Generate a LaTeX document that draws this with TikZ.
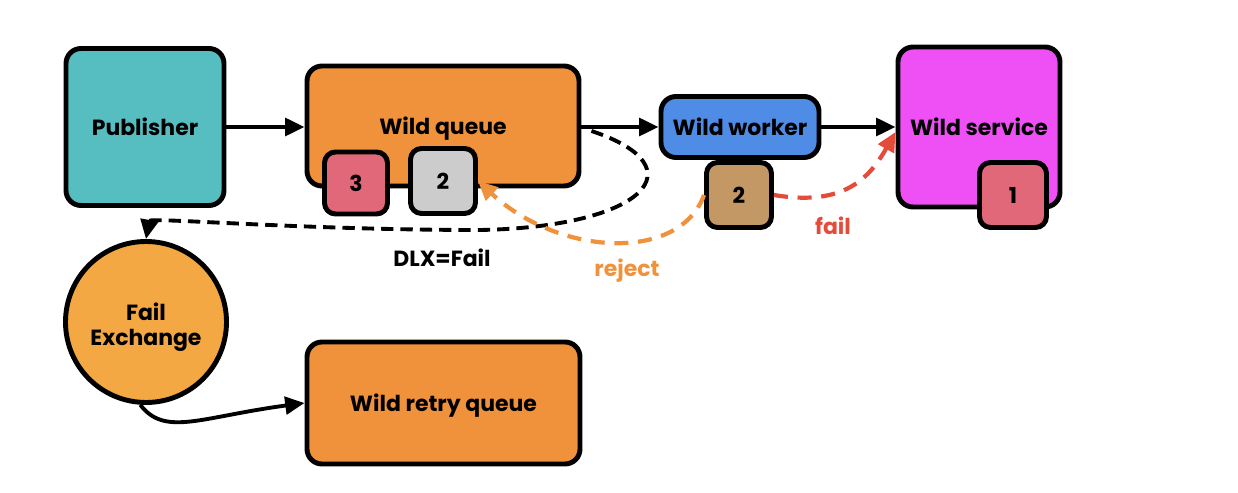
\documentclass[tikz,border=0pt]{standalone}
\usepackage{fontspec}
\setmainfont{Poppins}
\usepackage{tikz}
\usetikzlibrary{shapes}
\usetikzlibrary{arrows.meta}
\usetikzlibrary{calc}
\usepackage{xcolor}
\definecolor{pubTeal}{HTML}{56BDC1}
\definecolor{queueOrange}{HTML}{F0913C}
\definecolor{exchOrange}{HTML}{F3A843}
\definecolor{msgPink}{HTML}{E06878}
\definecolor{msgGrey}{HTML}{CCCCCC}
\definecolor{msgBrown}{HTML}{C49865}
\definecolor{workerBlue}{HTML}{4F8CE6}
\definecolor{serviceMagenta}{HTML}{EE50F5}
\definecolor{failRed}{HTML}{E54B3B}

\tikzset{
    box/.style={draw=black, line width=2.8pt, rounded corners=0.3cm, inner sep=0pt,
        align=center, text height=10pt, text depth=0pt, font=\fontsize{12.5}{14}\selectfont\bfseries},
    msgbox/.style={box, rounded corners=0.22cm, minimum width=1.3cm, minimum height=1.3cm},
    flow/.style={line width=2.2pt, -{Triangle[length=11pt,width=10pt]}},
    dlx/.style={flow, dash pattern=on 7pt off 4pt},
    reject/.style={flow, line width=2.4pt, color=queueOrange, dash pattern=on 8pt off 5.5pt},
    fail/.style={flow, line width=2.4pt, color=failRed, dash pattern=on 8pt off 5.5pt},
    edgelabel/.style={font=\fontsize{12.5}{14}\selectfont\bfseries}
}

\begin{document}
\begin{tikzpicture}
        \useasboundingbox (0,0) rectangle (24.76,9.84);
        % upper row
        \node [box, fill=pubTeal, minimum width=3.16cm, minimum height=3.14cm] (publisher) at (2.90,7.30) {Publisher};
        \node [box, fill=queueOrange, minimum width=5.44cm, minimum height=2.40cm] (wildqueue) at (8.86,7.32) {Wild queue};
        \node [box, fill=workerBlue, minimum width=3.16cm, minimum height=1.22cm] (wildworker) at (14.80,7.30) {Wild worker};
        \node [box, fill=serviceMagenta, minimum width=3.24cm, minimum height=3.20cm] (wildservice) at (19.58,7.30) {Wild service};
        % messages
        \node [msgbox, fill=msgPink, minimum width=1.26cm, minimum height=1.24cm] (msgthree) at (7.12,6.18) {3};
        \node [msgbox, fill=msgGrey] (msgqueued) at (8.86,6.22) {2};
        \node [msgbox, fill=msgBrown] (msgworker) at (14.78,5.94) {2};
        \node [msgbox, fill=msgPink, minimum width=1.34cm] (msgone) at (20.26,5.94) {1};
        % lower row
        \node [box, circle, fill=exchOrange, minimum size=3.22cm,
            label={[align=center, font=\fontsize{12.5}{14}\selectfont\bfseries, yshift=-0.1cm]center:{Fail\\Exchange}}] (failexchange) at (2.92,3.40) {};
        \node [box, fill=queueOrange, minimum width=5.46cm, minimum height=2.44cm] (retryqueue) at (8.87,1.78) {Wild retry queue};

        \draw [flow] (publisher.east) -- (wildqueue.west |- publisher.east);
        \draw [flow] (wildqueue.east |- wildworker.west) -- (wildworker.west);
        \draw [flow] (wildworker.east) -- (wildservice.west |- wildworker.east);
        \draw [dlx] ($(wildqueue.east)+(0.2,-0.1)$) .. controls (14.0,6.5) and (12.9,5.3) .. (9.6,5.24)
            .. controls (6,5.24) and (3.0,5.5) .. (failexchange.north);
        \draw [reject] (msgworker.west) .. controls (13.6,4.6) and (11.2,4.7) .. (msgqueued.east);
        \draw [fail] (msgworker.east) .. controls (16.9,5.7) and (17.4,6.3) .. ($(wildservice.west)+(0,-0.1)$);
        \draw [flow] (failexchange.-94) .. controls (3.3,1.1) and (4.0,1.5) .. (retryqueue.west);

        \node [edgelabel] (dlxlabel) at (8.84,4.68) {DLX=Fail};
        \node [edgelabel, text=queueOrange] (rejectlabel) at (12.54,4.42) {reject};
        \node [edgelabel, text=failRed] (faillabel) at (16.66,5.32) {fail};
    \end{tikzpicture}
\end{document}
